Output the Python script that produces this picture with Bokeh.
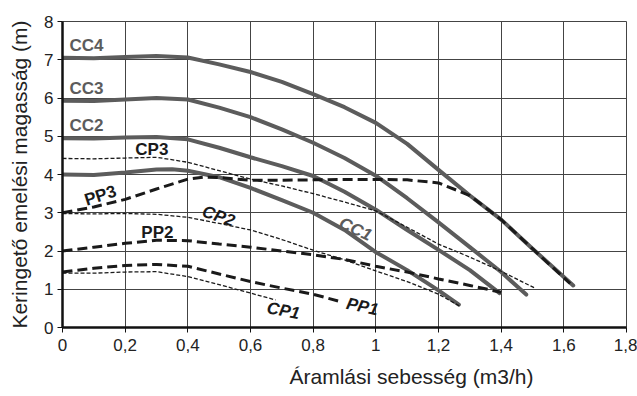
from bokeh.plotting import figure
from bokeh.models import (Label, Title, FixedTicker, SingleIntervalTicker,
                          CustomJSTickFormatter, Range1d)
from bokeh.embed import file_html
from bokeh.resources import INLINE
import math

# ---------------- data ----------------
X_TICKS = [0, 0.2, 0.4, 0.6, 0.8, 1.0, 1.2, 1.4, 1.6, 1.8]

cc4_x = [0, 0.1, 0.2, 0.3, 0.4, 0.5, 0.6, 0.7, 0.8, 0.9, 1.0, 1.1, 1.2, 1.3, 1.4, 1.5, 1.63]
cc4_y = [7.05, 7.04, 7.07, 7.1, 7.06, 6.88, 6.68, 6.42, 6.1, 5.76, 5.35, 4.8, 4.12, 3.45, 2.82, 2.06, 1.1]

cc3_x = [0, 0.1, 0.2, 0.3, 0.4, 0.5, 0.6, 0.7, 0.8, 0.9, 1.0, 1.1, 1.2, 1.3, 1.4, 1.48]
cc3_y = [5.93, 5.92, 5.96, 6.0, 5.96, 5.75, 5.5, 5.18, 4.83, 4.43, 3.97, 3.38, 2.75, 2.1, 1.45, 0.86]

cc2_x = [0, 0.1, 0.2, 0.3, 0.4, 0.5, 0.6, 0.7, 0.8, 0.9, 1.0, 1.1, 1.2, 1.3, 1.395]
cc2_y = [4.95, 4.94, 4.97, 4.98, 4.92, 4.7, 4.45, 4.22, 3.96, 3.55, 3.08, 2.55, 2.03, 1.5, 0.9]

cc1_x = [0, 0.1, 0.2, 0.3, 0.35, 0.4, 0.5, 0.6, 0.7, 0.8, 0.9, 1.0, 1.1, 1.2, 1.265]
cc1_y = [4.0, 3.99, 4.05, 4.13, 4.14, 4.1, 3.93, 3.65, 3.33, 3.0, 2.55, 1.97, 1.5, 0.97, 0.6]

cp3_x = [0, 0.1, 0.2, 0.3, 0.4, 0.5, 0.6, 0.7, 0.8, 0.9, 1.0, 1.1, 1.2, 1.3, 1.4, 1.51]
cp3_y = [4.42, 4.41, 4.43, 4.45, 4.32, 4.1, 3.88, 3.7, 3.5, 3.28, 3.05, 2.62, 2.18, 1.84, 1.47, 1.02]

pp3_x = [0, 0.1, 0.2, 0.3, 0.4, 0.45, 0.5, 0.6, 0.7, 0.8, 0.9, 1.0, 1.1, 1.2, 1.3, 1.4, 1.5, 1.62]
pp3_y = [3.0, 3.15, 3.35, 3.62, 3.88, 3.93, 3.92, 3.85, 3.85, 3.86, 3.87, 3.87, 3.86, 3.78, 3.45, 2.82, 2.06, 1.15]

cp2_x = [0, 0.1, 0.2, 0.3, 0.4, 0.5, 0.6, 0.7, 0.8, 0.9, 1.0, 1.1, 1.2, 1.27]
cp2_y = [2.98, 2.97, 2.98, 2.96, 2.88, 2.72, 2.55, 2.3, 2.02, 1.77, 1.48, 1.2, 0.87, 0.55]

pp2_x = [0, 0.1, 0.2, 0.3, 0.4, 0.5, 0.6, 0.7, 0.8, 0.9, 1.0, 1.1, 1.2, 1.3, 1.4]
pp2_y = [2.0, 2.1, 2.2, 2.28, 2.27, 2.18, 2.1, 2.0, 1.9, 1.78, 1.6, 1.45, 1.27, 1.1, 0.92]

pp1_x = [0, 0.1, 0.2, 0.3, 0.4, 0.5, 0.6, 0.7, 0.8, 0.89]
pp1_y = [1.45, 1.55, 1.62, 1.65, 1.6, 1.4, 1.2, 1.03, 0.87, 0.67]

cp1_x = [0, 0.1, 0.2, 0.3, 0.4, 0.5, 0.6, 0.68]
cp1_y = [1.42, 1.42, 1.45, 1.46, 1.33, 1.12, 0.9, 0.72]

X_LABEL = "Áramlási sebesség (m3/h)"
Y_LABEL = "Keringető emelési magasság (m)"

# ---------------- figure ----------------
FONT = "Liberation Sans"
p = figure(width=637, height=396, output_backend="svg", toolbar_location=None,
           x_range=Range1d(0, 1.8), y_range=Range1d(0, 8),
           min_border_left=62, min_border_right=11, min_border_top=21,
           min_border_bottom=67)
p.outline_line_color = "#444444"
p.background_fill_color = "white"

p.xaxis.ticker = FixedTicker(ticks=X_TICKS)
p.yaxis.ticker = SingleIntervalTicker(interval=1)
fmt = CustomJSTickFormatter(code="return (Math.round(tick*10)/10).toString().replace('.', ',');")
p.xaxis.formatter = fmt

for ax in (p.xaxis[0], p.yaxis[0]):
    ax.axis_line_width = 2.5
    ax.axis_line_color = "#111111"
    ax.major_tick_line_color = "#111111"
    ax.major_tick_line_width = 1
    ax.major_tick_out = 5
    ax.major_tick_in = 0
    ax.minor_tick_line_color = None
    ax.major_label_text_font = FONT
    ax.major_label_text_font_size = "17px"
    ax.major_label_text_color = "#222222"
    ax.axis_label_text_font = FONT
    ax.axis_label_text_font_style = "normal"
    ax.axis_label_text_font_size = "21px"
    ax.axis_label_text_color = "#222222"

p.yaxis.major_label_standoff = 4
p.yaxis.axis_label = Y_LABEL
p.yaxis.axis_label_standoff = 10
p.xaxis.major_label_standoff = 6

p.xgrid.grid_line_color = "#444444"
p.ygrid.grid_line_color = "#444444"
p.xgrid.grid_line_width = 1
p.ygrid.grid_line_width = 1

# x-axis title, placed below the axis (right of centre, as in the reference)
p.add_layout(Title(text=X_LABEL, align="left", offset=227, standoff=18,
                   text_font=FONT, text_font_size="21px", text_font_style="normal",
                   text_line_height=1.0, text_color="#222222"), "below")

CC_COL = "#5c5c5c"
DK = "#1a1a1a"

for xs, ys in [(cc4_x, cc4_y), (cc3_x, cc3_y), (cc2_x, cc2_y), (cc1_x, cc1_y)]:
    p.line(xs, ys, line_color=CC_COL, line_width=4, line_join="round", line_cap="round")

for xs, ys in [(cp3_x, cp3_y), (cp2_x, cp2_y), (cp1_x, cp1_y)]:
    p.line(xs, ys, line_color=DK, line_width=1.3, line_dash="4 2")

for xs, ys in [(pp3_x, pp3_y), (pp2_x, pp2_y), (pp1_x, pp1_y)]:
    p.line(xs, ys, line_color=DK, line_width=3, line_dash="10 5")

labels = [
    ("CC4", 0.022, 7.38, 0, CC_COL, "bold", "left"),
    ("CC3", 0.022, 6.25, 0, CC_COL, "bold", "left"),
    ("CC2", 0.022, 5.27, 0, CC_COL, "bold", "left"),
    ("CP3", 0.285, 4.65, 0, DK, "bold", "center"),
    ("PP3", 0.121, 3.45, 18, DK, "bold", "center"),
    ("PP2", 0.303, 2.49, 0, DK, "bold", "center"),
    ("CP2", 0.498, 2.91, -19, DK, "bold italic", "center"),
    ("CC1", 0.935, 2.57, -25, CC_COL, "bold italic", "center"),
    ("CP1", 0.705, 0.44, -11, DK, "bold italic", "center"),
    ("PP1", 0.957, 0.545, -12, DK, "bold italic", "center"),
]
for t, x, y, a, c, st, al in labels:
    p.add_layout(Label(x=x, y=y, text=t, angle=math.radians(a), text_color=c,
                       text_font=FONT, text_font_style=st, text_font_size="17px",
                       text_align=al, text_baseline="middle"))

open("out.html", "w").write(file_html(p, INLINE))
